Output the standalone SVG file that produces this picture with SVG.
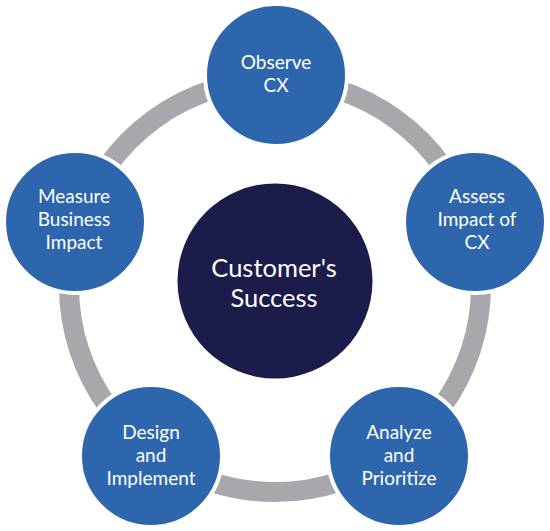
<svg xmlns="http://www.w3.org/2000/svg" width="550" height="531" viewBox="0 0 550 531">
<style>
.ring{fill:none;stroke:#A8A7AC;stroke-width:20}
.node{fill:#2E66AE;stroke:#FFFFFF;stroke-width:4}
.hub{fill:#1B1C4A}
.lbl{font-family:Lato,"Open Sans","Liberation Sans",sans-serif;font-size:19px;fill:#FFFFFF;text-anchor:middle}
.hubl{font-family:Lato,"Open Sans","Liberation Sans",sans-serif;font-size:25.5px;fill:#FFFFFF;text-anchor:middle}
</style>
<rect width="550" height="531" fill="#FFFFFF"/>
<g id="connectors">
<path class="ring" d="M275 80 A206 206 0 0 1 470.92 222.34"/>
<path class="ring" d="M470.92 222.34 A206 206 0 0 1 396.08 452.66"/>
<path class="ring" d="M396.08 452.66 A206 206 0 0 1 153.92 452.66"/>
<path class="ring" d="M153.92 452.66 A206 206 0 0 1 79.08 222.34"/>
<path class="ring" d="M79.08 222.34 A206 206 0 0 1 275 80"/>
</g>
<g id="hub">
<circle class="hub" cx="275" cy="281" r="97.5"/>
<text class="hubl" x="274" y="277">Customer's</text>
<text class="hubl" x="274" y="307">Success</text>
</g>
<g id="observe">
<circle class="node" cx="276" cy="75" r="71"/>
<text class="lbl" x="276" y="69">Observe</text>
<text class="lbl" x="276" y="92">CX</text>
</g>
<g id="assess">
<circle class="node" cx="475" cy="222" r="71"/>
<text class="lbl" x="477" y="203">Assess</text>
<text class="lbl" x="477" y="226">Impact of</text>
<text class="lbl" x="477" y="249">CX</text>
</g>
<g id="analyze">
<circle class="node" cx="399" cy="456" r="71"/>
<text class="lbl" x="399" y="439">Analyze</text>
<text class="lbl" x="399" y="462">and</text>
<text class="lbl" x="399" y="485">Prioritize</text>
</g>
<g id="design">
<circle class="node" cx="151" cy="456" r="71"/>
<text class="lbl" x="151" y="439">Design</text>
<text class="lbl" x="151" y="462">and</text>
<text class="lbl" x="151" y="485">Implement</text>
</g>
<g id="measure">
<circle class="node" cx="75" cy="222" r="71"/>
<text class="lbl" x="74" y="203">Measure</text>
<text class="lbl" x="74" y="226">Business</text>
<text class="lbl" x="74" y="249">Impact</text>
</g>
</svg>
